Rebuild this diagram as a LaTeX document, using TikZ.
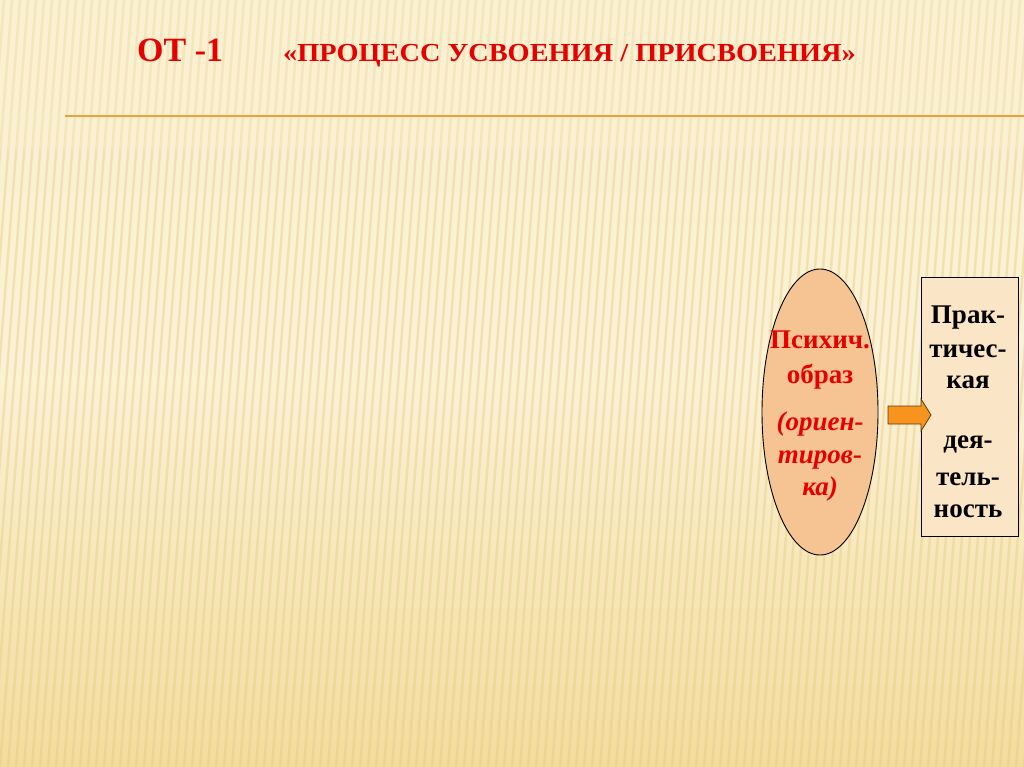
\documentclass[tikz,border=0pt]{standalone}
\usepackage{fontspec}
\setmainfont{Liberation Serif}
\usetikzlibrary{shapes.geometric}
\definecolor{bgtop}{HTML}{FAF0D2}
\definecolor{bgmid}{HTML}{FBF1D4}
\definecolor{bgbot}{HTML}{F3DC9E}
\definecolor{stripe}{HTML}{E6C97C}
\definecolor{titlered}{HTML}{E60000}
\definecolor{ovalfill}{HTML}{F5C492}
\definecolor{boxfill}{HTML}{FAE6C6}
\definecolor{arrowfill}{HTML}{F7941D}
\definecolor{arrowline}{HTML}{5A3E0C}
\definecolor{lineor}{HTML}{E8A040}
\tikzset{
  ovaltext/.style={font=\bfseries\fontsize{27}{33}\selectfont, text=titlered, anchor=base, inner sep=0pt},
  ovalital/.style={ovaltext, font=\bfseries\itshape\fontsize{27}{33}\selectfont},
  boxtext/.style={font=\bfseries\fontsize{27}{33}\selectfont, text=black, anchor=base, inner sep=0pt},
}
\begin{document}
\begin{tikzpicture}[x=1pt,y=-1pt]
\useasboundingbox (0,0) rectangle (1024,767);
\shade[top color=bgtop, bottom color=bgbot, middle color=bgmid] (0,0) rectangle (1024,767);
\foreach \i in {-40,...,130}{
  \draw[stripe, line width=2.4pt, opacity=0.4] (\i*8,767) -- (\i*8+60,0);
}
\fill[bgtop, opacity=0.35] (0,0) rectangle (1024,150);
% title
\node[font=\bfseries\fontsize{34}{34}\selectfont, text=titlered, anchor=base west, inner sep=0pt] (ot) at (137,62) {ОТ -1};
\node[font=\bfseries\fontsize{26}{26}\selectfont, text=titlered, anchor=base west, inner sep=0pt] (title) at (283,62) {\scalebox{1.09}[1]{«ПРОЦЕСС УСВОЕНИЯ / ПРИСВОЕНИЯ»}};
\coordinate (la) at (65,116);
\coordinate (lb) at (1024,116);
\draw[lineor, line width=2pt] (la) -- (lb);
% oval
\node[ellipse, draw=black, line width=0.9pt, fill=ovalfill, minimum width=116pt, minimum height=286pt, inner sep=0pt] (oval) at (820,412) {};
\node[ovaltext] (o1) at (820,348) {Психич.};
\node[ovaltext] (o2) at (820,383) {образ};
\node[ovalital] (o3) at (820,430) {(ориен-};
\node[ovalital] (o4) at (820,463) {тиров-};
\node[ovalital] (o5) at (820,495) {ка)};
% box
\node[draw=black, line width=0.9pt, fill=boxfill, minimum width=97pt, minimum height=259pt, inner sep=0pt] (box) at (969.5,406.5) {};
\node[boxtext] (b1) at (968,323) {Прак-};
\node[boxtext] (b2) at (968,357) {тичес-};
\node[boxtext] (b3) at (968,388) {кая};
\node[boxtext] (b4) at (968,448) {дея-};
\node[boxtext] (b5) at (968,485) {тель-};
\node[boxtext] (b6) at (968,517) {ность};
% arrow from oval to box
\draw[arrowline, line width=0.8pt, fill=arrowfill, line join=miter]
  (888,406) -- (921,406) -- (921,399) -- (931,415) -- (921,431) -- (921,424) -- (888,424) -- cycle;
\end{tikzpicture}
\end{document}
